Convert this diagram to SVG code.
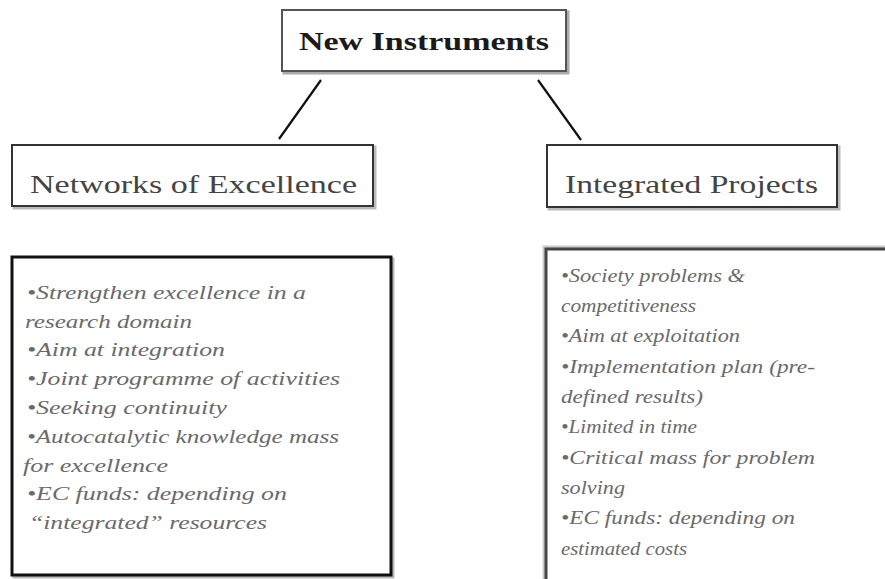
<svg xmlns="http://www.w3.org/2000/svg" width="885" height="579" viewBox="0 0 885 579">
<style>
text{font-family:'Liberation Serif','Times New Roman',Times,serif}
.title{font-weight:bold;font-size:26px;fill:#1a1a1a}
.head{font-size:26px;fill:#444}
.item{font-style:italic;font-size:19px;fill:#6a6a6a}
.box{fill:#fff;stroke:#333;stroke-width:2}
.thick{fill:#fff;stroke:#111;stroke-width:3}
.conn{stroke:#111;stroke-width:2.2;fill:none}
</style>
<rect width="885" height="579" fill="#fff"/>
<g id="connectors">
<line class="conn" x1="321" y1="80" x2="279" y2="139"/>
<line class="conn" x1="538" y1="80" x2="581" y2="140"/>
</g>
<g id="new-instruments">
<rect x="284" y="12" width="284" height="61" fill="none" stroke="#aaa" stroke-width="3"/>
<rect x="282" y="10" width="284" height="61" fill="#fff" stroke="#555" stroke-width="2"/>
<text class="title" x="424" y="50" text-anchor="middle" textLength="250" lengthAdjust="spacingAndGlyphs">New Instruments</text>
</g>
<g id="networks-of-excellence">
<rect x="14" y="147" width="361" height="61" fill="none" stroke="#bbb" stroke-width="3"/>
<rect x="12" y="145" width="361" height="61" class="box"/>
<text class="head" x="30" y="193" textLength="327" lengthAdjust="spacingAndGlyphs">Networks of Excellence</text>
</g>
<g id="integrated-projects">
<rect x="549" y="147" width="290" height="62" fill="none" stroke="#bbb" stroke-width="3"/>
<rect x="547" y="145" width="290" height="62" class="box"/>
<text class="head" x="565" y="193" textLength="253" lengthAdjust="spacingAndGlyphs">Integrated Projects</text>
</g>
<g id="noe-list">
<rect x="14" y="259" width="379" height="318" fill="none" stroke="#bbb" stroke-width="3"/>
<rect x="12" y="257" width="379" height="318" class="thick"/>
<text class="item" x="27" y="299" textLength="279" lengthAdjust="spacingAndGlyphs">•Strengthen excellence in a</text>
<text class="item" x="25" y="328" textLength="167" lengthAdjust="spacingAndGlyphs">research domain</text>
<text class="item" x="27" y="356" textLength="198" lengthAdjust="spacingAndGlyphs">•Aim at integration</text>
<text class="item" x="27" y="385" textLength="313" lengthAdjust="spacingAndGlyphs">•Joint programme of activities</text>
<text class="item" x="27" y="414" textLength="200" lengthAdjust="spacingAndGlyphs">•Seeking continuity</text>
<text class="item" x="27" y="443" textLength="312" lengthAdjust="spacingAndGlyphs">•Autocatalytic knowledge mass</text>
<text class="item" x="23" y="472" textLength="145" lengthAdjust="spacingAndGlyphs">for excellence</text>
<text class="item" x="27" y="500" textLength="260" lengthAdjust="spacingAndGlyphs">•EC funds: depending on</text>
<text class="item" x="29" y="529" textLength="238" lengthAdjust="spacingAndGlyphs">“integrated” resources</text>
</g>
<g id="ip-list">
<rect x="544" y="247" width="350" height="340" fill="none" stroke="#ccc" stroke-width="3"/>
<rect x="546" y="249" width="345" height="340" fill="#fff" stroke="#444" stroke-width="3"/>
<text class="item" x="561" y="282" textLength="184" lengthAdjust="spacingAndGlyphs">•Society problems &amp;</text>
<text class="item" x="561" y="312" textLength="135" lengthAdjust="spacingAndGlyphs">competitiveness</text>
<text class="item" x="561" y="342" textLength="179" lengthAdjust="spacingAndGlyphs">•Aim at exploitation</text>
<text class="item" x="561" y="373" textLength="254" lengthAdjust="spacingAndGlyphs">•Implementation plan (pre-</text>
<text class="item" x="561" y="403" textLength="142" lengthAdjust="spacingAndGlyphs">defined results)</text>
<text class="item" x="561" y="433" textLength="136" lengthAdjust="spacingAndGlyphs">•Limited in time</text>
<text class="item" x="561" y="464" textLength="254" lengthAdjust="spacingAndGlyphs">•Critical mass for problem</text>
<text class="item" x="561" y="494" textLength="64" lengthAdjust="spacingAndGlyphs">solving</text>
<text class="item" x="561" y="524" textLength="234" lengthAdjust="spacingAndGlyphs">•EC funds: depending on</text>
<text class="item" x="561" y="555" textLength="126" lengthAdjust="spacingAndGlyphs">estimated costs</text>
</g>
</svg>
